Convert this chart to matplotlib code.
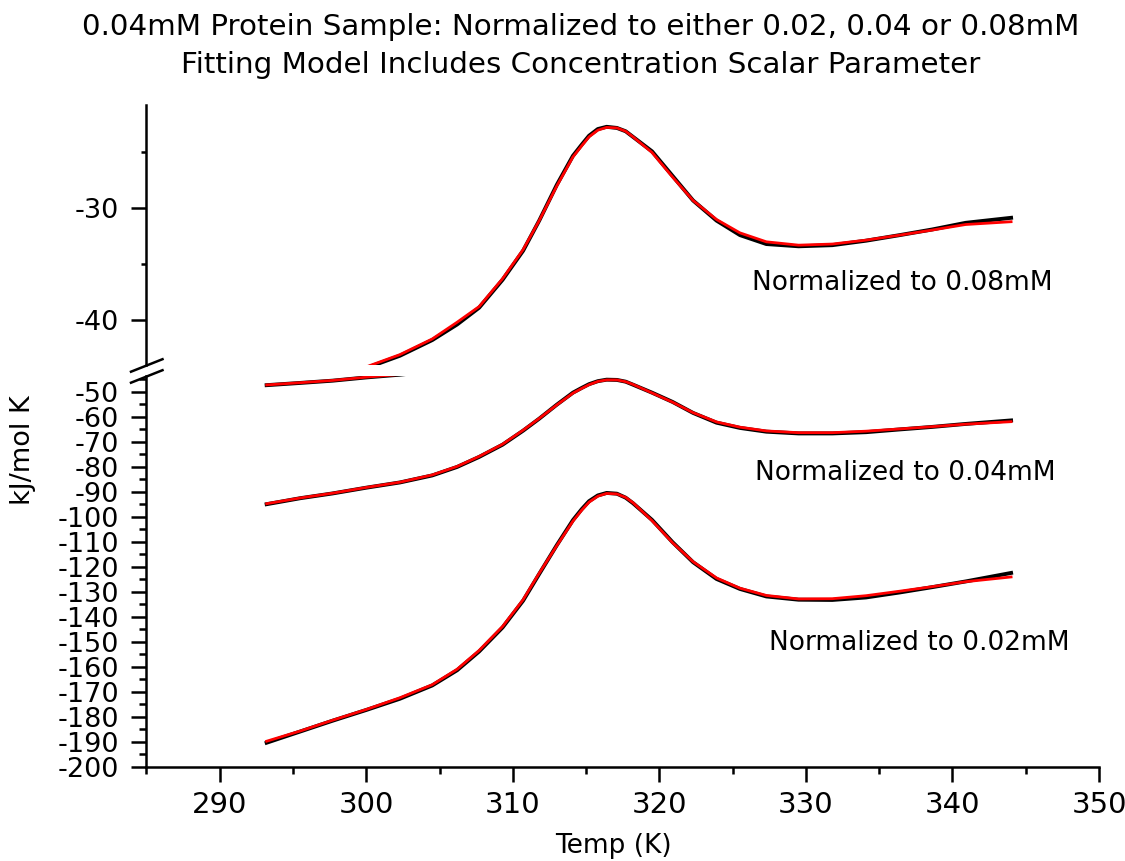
import matplotlib
matplotlib.use('Agg')
import matplotlib.pyplot as plt
from matplotlib.lines import Line2D

plt.rcParams['axes.unicode_minus'] = False

# temperatures (K)
temp = [293.2, 295.5, 297.7, 300.0, 302.3, 304.5, 306.2, 307.7, 309.3, 310.7,
        311.8, 313.0, 314.1, 314.7, 315.2, 315.8, 316.4, 317.1, 317.7, 318.2, 319.5,
        320.9, 322.3, 323.9, 325.5, 327.3, 329.5, 331.8, 334.1, 336.4, 338.6,
        340.9, 344.0]

# normalized to 0.02mM
data_002 = [-190.4, -185.9, -181.6, -177.3, -172.8, -167.5, -161.4, -153.9, -144.3, -133.6,
            -122.9, -111.4, -101.4, -97.0, -93.8, -91.5, -90.5, -90.8, -92.4, -94.6, -101.3,
            -110.2, -118.2, -124.9, -128.9, -131.9, -133.2, -133.3, -132.3, -130.3, -128.2,
            -125.9, -122.5]
fit_002 = [-189.8, -185.7, -181.4, -177.1, -172.4, -167.2, -161.0, -153.5, -143.9, -133.2,
           -122.6, -111.6, -101.8, -97.4, -94.2, -91.8, -90.7, -90.9, -92.3, -94.4, -101.6,
           -110.4, -118.0, -124.5, -128.6, -131.5, -132.9, -132.8, -131.6, -129.8, -128.0,
           -126.0, -124.1]

# normalized to 0.04mM
data_004 = [-95.0, -92.6, -90.7, -88.4, -86.3, -83.5, -80.1, -76.1, -71.2, -65.6,
            -60.8, -55.2, -50.4, -48.5, -47.0, -45.8, -45.2, -45.3, -46.0, -47.2, -50.4,
            -54.1, -58.5, -62.4, -64.5, -66.0, -66.7, -66.7, -66.2, -65.1, -64.1,
            -62.9, -61.5]
fit_004 = [-94.8, -92.5, -90.6, -88.3, -86.2, -83.3, -79.9, -75.9, -71.0, -65.4,
           -60.7, -55.3, -50.6, -48.7, -47.2, -45.9, -45.3, -45.3, -46.0, -47.1, -50.5,
           -54.2, -58.4, -62.1, -64.2, -65.7, -66.4, -66.4, -65.8, -64.9, -64.0,
           -63.0, -62.0]

# normalized to 0.08mM
data_008 = [-47.4, -46.5, -45.6, -44.3, -43.2, -41.8, -40.4, -38.9, -36.4, -33.8,
            -31.1, -27.9, -25.3, -24.3, -23.5, -22.9, -22.7, -22.8, -23.1, -23.6, -24.9,
            -27.1, -29.3, -31.1, -32.4, -33.2, -33.4, -33.3, -32.9, -32.4, -31.9,
            -31.3, -30.85]
fit_008 = [-47.3, -46.4, -45.5, -44.2, -43.1, -41.7, -40.2, -38.8, -36.3, -33.7,
           -31.1, -28.0, -25.4, -24.4, -23.6, -23.0, -22.75, -22.8, -23.1, -23.6, -25.0,
           -27.2, -29.3, -31.0, -32.2, -33.0, -33.3, -33.2, -32.85, -32.4, -31.95,
           -31.45, -31.2]

labels = ['Normalized to 0.08mM', 'Normalized to 0.04mM', 'Normalized to 0.02mM']

fig = plt.figure(figsize=(11.25, 8.61), dpi=100)
ax_lo = fig.add_axes([0.1302, 0.1095, 0.8467, 0.4538])
ax_hi = fig.add_axes([0.1302, 0.5765, 0.8467, 0.3015])

# 0.08mM curve crosses the axis break, so draw it on both parts
for ax in (ax_lo, ax_hi):
    ax.plot(temp, data_008, color='black', lw=2.8)
    ax.plot(temp, fit_008, color='red', lw=2.0)

ax_lo.plot(temp, data_004, color='black', lw=2.8)
ax_lo.plot(temp, fit_004, color='red', lw=2.0)
ax_lo.plot(temp, data_002, color='black', lw=2.8)
ax_lo.plot(temp, fit_002, color='red', lw=2.0)

for ax in (ax_lo, ax_hi):
    ax.set_xlim(285, 350)
    ax.spines['top'].set_visible(False)
    ax.spines['right'].set_visible(False)
    ax.spines['left'].set_linewidth(1.8)
    ax.spines['bottom'].set_linewidth(1.8)
    ax.tick_params(which='major', direction='out', length=10.8, width=1.8)
    ax.tick_params(which='minor', direction='out', length=5, width=1.8)
    ax.tick_params(axis='y', labelsize=19.5, pad=9)

ax_lo.set_ylim(-200, -43.73)
ax_lo.set_yticks(range(-200, -49, 10))
ax_lo.set_yticks(range(-195, -44, 5), minor=True)
ax_lo.set_xticks(range(290, 351, 10))
ax_lo.set_xticks(range(285, 350, 10), minor=True)
ax_lo.tick_params(axis='x', labelsize=21, pad=7)

ax_hi.set_ylim(-44.0, -20.75)
ax_hi.set_yticks([-40, -30])
ax_hi.set_yticks([-35, -25], minor=True)
ax_hi.tick_params(which='minor', length=3.8)
ax_hi.spines['bottom'].set_visible(False)
ax_hi.tick_params(axis='x', which='both', bottom=False, labelbottom=False)

# axis break marks
for y0 in (371.7, 382.7):
    fig.add_artist(Line2D([131 / 1125, 162.5 / 1125],
                          [1 - y0 / 861, 1 - (y0 - 12.5) / 861],
                          color='black', lw=1.8))

ax_hi.text(326.3, -36.7, labels[0], fontsize=19, va='center', ha='left')
ax_lo.text(326.5, -82.5, labels[1], fontsize=19, va='center', ha='left')
ax_lo.text(327.5, -150.4, labels[2], fontsize=19, va='center', ha='left')

fig.text(581 / 1125, 1 - 27 / 861,
         '0.04mM Protein Sample: Normalized to either 0.02, 0.04 or 0.08mM',
         fontsize=21.2, ha='center', va='center')
fig.text(581 / 1125, 1 - 65 / 861,
         'Fitting Model Includes Concentration Scalar Parameter',
         fontsize=21.2, ha='center', va='center')

fig.text(613 / 1125, 1 - 846 / 861, 'Temp (K)', fontsize=19, ha='center', va='center')
fig.text(23 / 1125, 1 - 450 / 861, 'kJ/mol K', fontsize=19.5, rotation=90,
         ha='center', va='center')

fig.savefig('out.png', dpi=100)
